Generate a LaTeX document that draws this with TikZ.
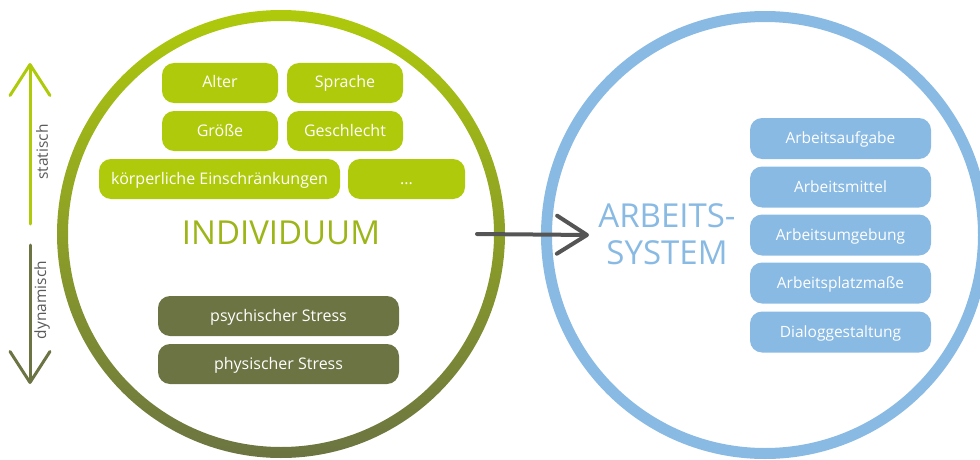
\documentclass[tikz,border=0pt]{standalone}
\usepackage{fontspec}
\setmainfont{Open Sans}
\usetikzlibrary{arrows.meta, positioning}
\definecolor{limegreen}{RGB}{175, 202, 11}
\definecolor{olivedark}{RGB}{107, 116, 66}
\definecolor{skyblue}{RGB}{137, 186, 227}
\definecolor{arrowgray}{RGB}{85, 85, 85}
\definecolor{labelgray}{RGB}{90, 90, 90}

\begin{document}
\begin{tikzpicture}[
    x=1pt, y=-1pt,
    trait/.style={rectangle, fill=limegreen, rounded corners=12pt, minimum width=116pt, minimum height=40pt, inner sep=0pt, text height=11.5pt, text depth=1.5pt, align=center, text=white, font=\fontsize{16}{18}\selectfont},
    stress/.style={trait, fill=olivedark, minimum width=241pt},
    factor/.style={trait, fill=skyblue, minimum width=181pt, minimum height=41pt, font=\fontsize{15.5}{18}\selectfont},
    ring/.style={circle, minimum size=437pt, line width=11pt},
    title/.style={align=center, font=\fontsize{33}{37}\selectfont},
    arrow/.style={-{Straight Barb[length=30pt, width=38pt, round]}, line width=4pt, arrowgray, line cap=round},
    scale arrow/.style={-{Straight Barb[length=31pt, width=40pt, round]}, line width=3pt, line cap=round}
]
    \useasboundingbox (0, 0) rectangle (980, 460);

    % Individuum circle (gradient ring)
    \node[ring] (indiv) at (281, 234) {};
    \shade[top color=limegreen, bottom color=olivedark, even odd rule] (indiv.center) circle (224pt) circle (213pt);

    % Arbeitssystem circle
    \node[ring, draw=skyblue] (sys) at (765, 235) {};

    % static traits
    \node[trait] (alter) at (220, 83) {Alter};
    \node[trait] (sprache) at (345, 83) {Sprache};
    \node[trait] (groesse) at (220, 131) {Größe};
    \node[trait] (geschlecht) at (345, 131) {Geschlecht};
    \node[trait, minimum width=241pt] (koerper) at (219.5, 179) {körperliche Einschränkungen};
    \node[trait, minimum width=117pt] (more) at (406.5, 179) {...};

    \node[title, text=limegreen!75!olivedark] (indtitle) at (281, 233) {INDIVIDUUM};

    % dynamic traits
    \node[stress] (psych) at (278.5, 316) {psychischer Stress};
    \node[stress] (phys) at (278.5, 364) {physischer Stress};

    % statisch / dynamisch scale
    \coordinate (stlow) at (30, 224);
    \coordinate (sttop) at (30, 63);
    \coordinate (dyntop) at (30, 245);
    \coordinate (dynlow) at (30, 384);
    \draw[scale arrow, limegreen] (stlow) -- (sttop);
    \draw[scale arrow, olivedark] (dyntop) -- (dynlow);
    \node[rotate=90, text=labelgray, font=\fontsize{15.5}{18}\selectfont] (statlabel) at (42, 152) {statisch};
    \node[rotate=90, text=labelgray, font=\fontsize{15.5}{18}\selectfont] (dynlabel) at (42, 300) {dynamisch};

    % Arbeitssystem
    \node[title, text=skyblue] (systitle) at (667, 234) {ARBEITS-\\SYSTEM};

    \node[factor] (aufgabe) at (840.5, 138.5) {Arbeitsaufgabe};
    \node[factor] (mittel) at (840.5, 187) {Arbeitsmittel};
    \node[factor] (umgebung) at (840.5, 235) {Arbeitsumgebung};
    \node[factor] (platz) at (840.5, 283) {Arbeitsplatzmaße};
    \node[factor] (dialog) at (840.5, 332) {Dialoggestaltung};

    % Arrow
    \draw[arrow] ([xshift=-28pt]indiv.east) -- ([xshift=48pt]sys.west);

\end{tikzpicture}
\end{document}
